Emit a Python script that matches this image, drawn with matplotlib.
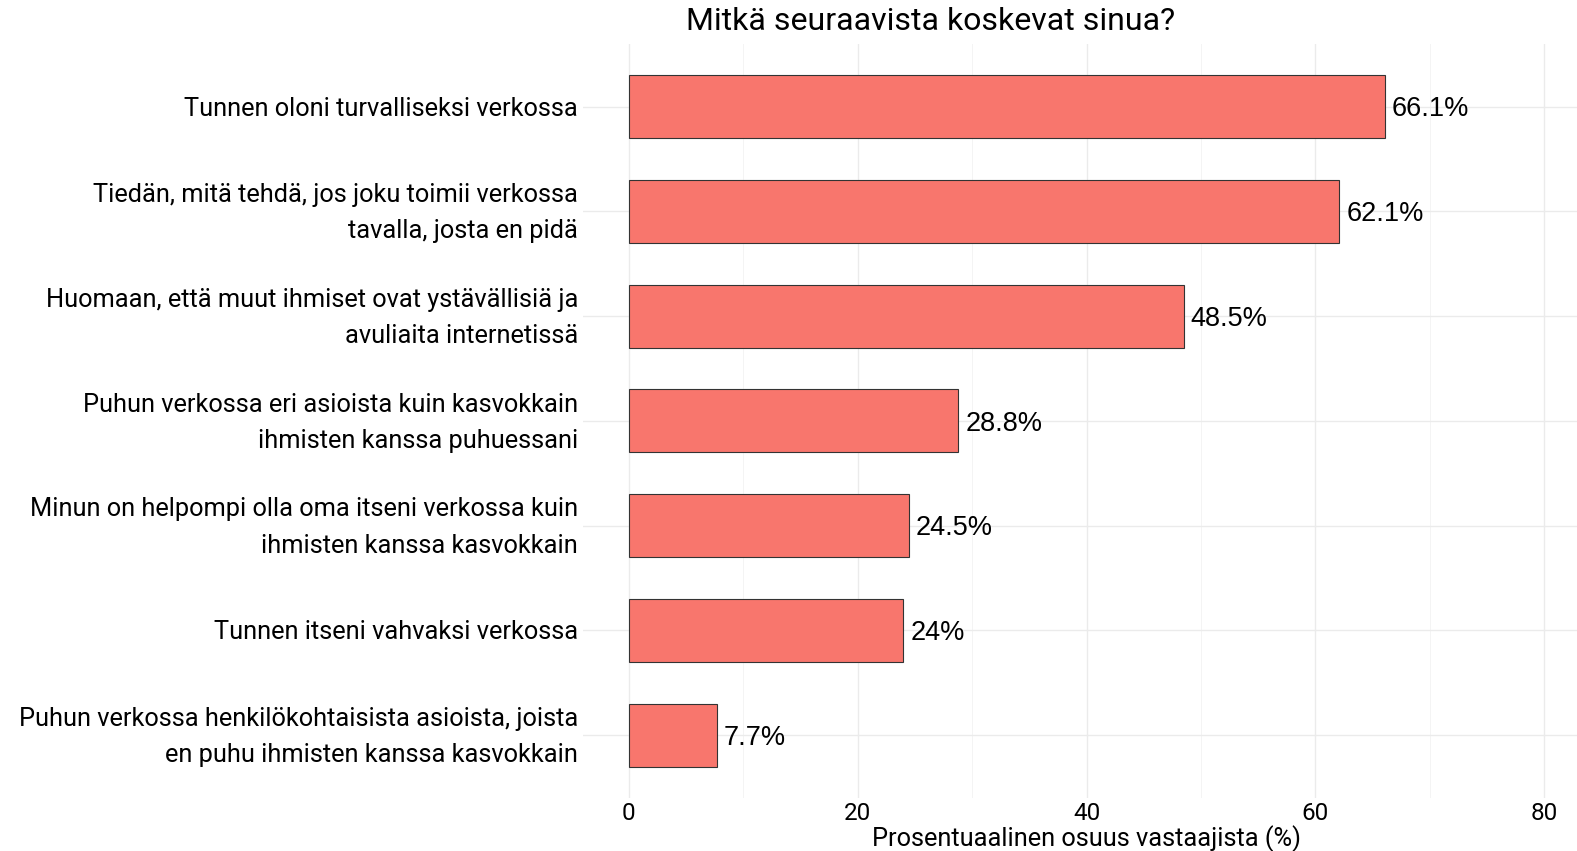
import matplotlib.pyplot as plt
import matplotlib.transforms as mtransforms
from matplotlib.ticker import MultipleLocator

# Data (bottom to top, as drawn)
labels = [
    "Puhun verkossa henkilökohtaisista asioista, joista\nen puhu ihmisten kanssa kasvokkain",
    "Tunnen itseni vahvaksi verkossa",
    "Minun on helpompi olla oma itseni verkossa kuin\nihmisten kanssa kasvokkain",
    "Puhun verkossa eri asioista kuin kasvokkain\nihmisten kanssa puhuessani",
    "Huomaan, että muut ihmiset ovat ystävällisiä ja\navuliaita internetissä",
    "Tiedän, mitä tehdä, jos joku toimii verkossa\ntavalla, josta en pidä",
    "Tunnen oloni turvalliseksi verkossa",
]
values = [7.7, 24.0, 24.5, 28.8, 48.5, 62.1, 66.1]
value_text = ["7.7%", "24%", "24.5%", "28.8%", "48.5%", "62.1%", "66.1%"]

font = ["Roboto", "DejaVu Sans"]

fig = plt.figure(figsize=(15.77, 8.51), dpi=100)
ax = fig.add_axes([583 / 1577, 1 - 798 / 851, 1007 / 1577, 754.3 / 851])

pos = list(range(1, len(values) + 1))
ax.barh(pos, values, height=0.6, color="#F8766D", edgecolor="#333333", linewidth=0.8, zorder=3)

for p, v, t in zip(pos, values, value_text):
    ax.annotate(t, (v, p), xytext=(5, -2), textcoords="offset points",
                ha="left", va="center", fontsize=19.5, family="Liberation Sans", color="black")

ax.set_xlim(-4, 84)
ax.set_ylim(0.4, 7.6)
ax.xaxis.set_major_locator(MultipleLocator(20))
ax.xaxis.set_minor_locator(MultipleLocator(10))
ax.grid(axis="x", which="major", color="#EBEBEB", linewidth=1.0, zorder=0)
ax.grid(axis="x", which="minor", color="#F2F2F2", linewidth=0.6, zorder=0)
ax.grid(axis="y", which="major", color="#EBEBEB", linewidth=1.0, zorder=0)
for s in ax.spines.values():
    s.set_visible(False)

# category labels drawn as text, placed a touch below the bar centre
ax.set_yticks(pos)
ax.set_yticklabels([])
label_tr = ax.get_yaxis_transform() + mtransforms.ScaledTranslation(-0.05, -0.02, fig.dpi_scale_trans)
for p, lab in zip(pos, labels):
    ax.text(0, p, lab, transform=label_tr, ha="right", va="center", family=font,
            fontsize=18.3, linespacing=1.65, multialignment="right")

ax.tick_params(axis="both", which="both", length=0)
ax.tick_params(axis="x", pad=3)
for lab in ax.get_xticklabels():
    lab.set_family(font)
    lab.set_fontsize(17.5)

ax.set_xlabel("Prosentuaalinen osuus vastaajista (%)", family=font, fontsize=18.3, labelpad=0)

fig.text(931 / 1577, 1 - 21 / 851, "Mitkä seuraavista koskevat sinua?", family=font,
         fontsize=23, ha="center", va="center")

fig.savefig("out.png", dpi=100)
